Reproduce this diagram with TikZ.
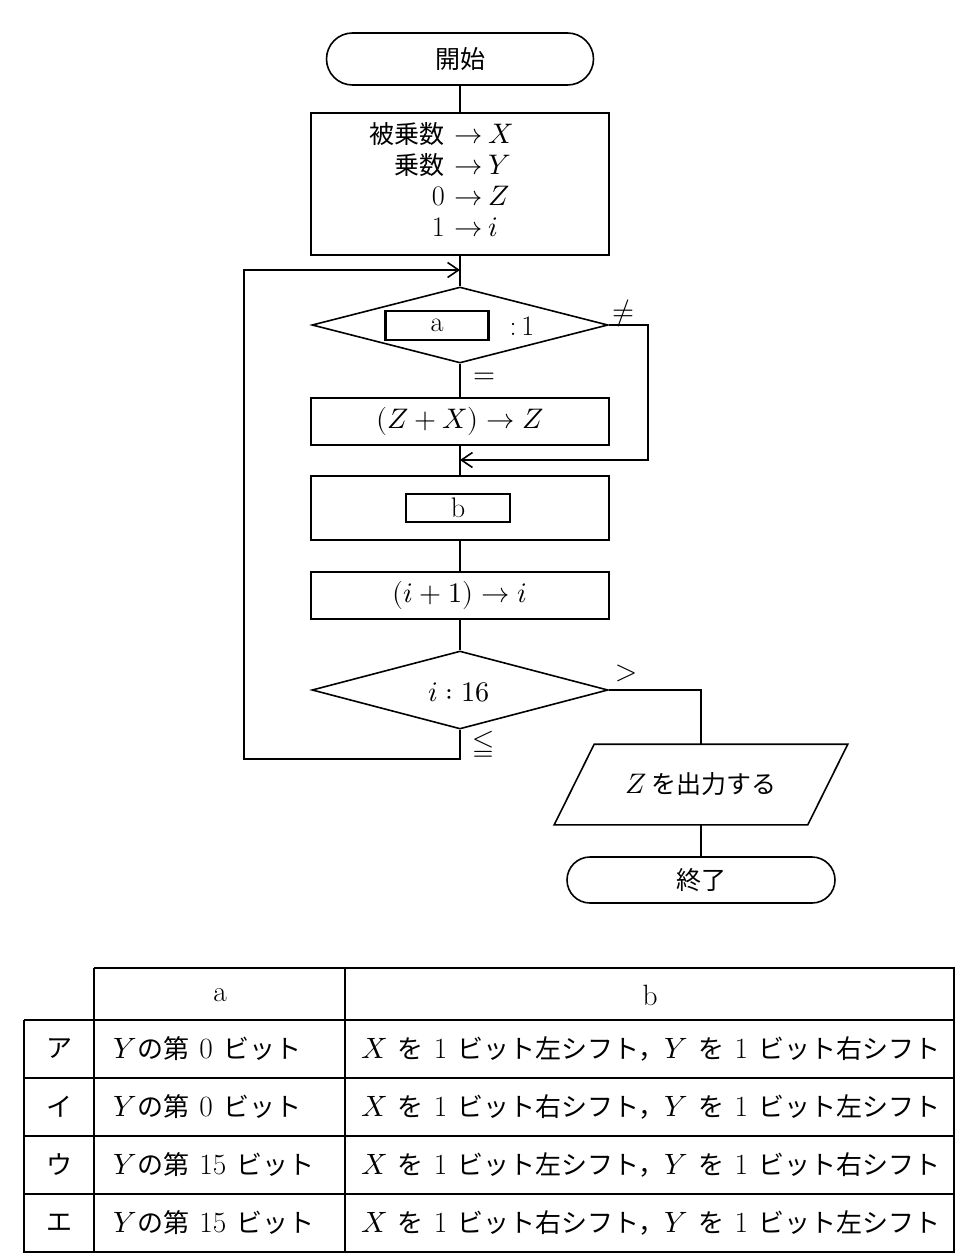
\documentclass[tikz,border=0pt]{standalone}
\usepackage{fontspec}
\usepackage{unicode-math}
\setmainfont{Latin Modern Roman}[Scale=1.13]
\setmathfont{Latin Modern Math}[Scale=1.13]
\newfontfamily\jp{Noto Sans CJK JP}
\usetikzlibrary{shapes.geometric,arrows.meta,calc}
\begin{document}
\begin{tikzpicture}[x=1pt,y=-1pt,line width=1.6pt,
  font=\fontsize{25}{31}\selectfont,
  term/.style={draw,inner sep=0},
  proc/.style={draw,minimum width=298,inner sep=0},
  dec/.style={draw,diamond,minimum width=296,minimum height=76,inner sep=0},
  hole/.style={draw,line width=2.3pt,minimum width=103,minimum height=29,inner sep=0},
  arr/.style={-{Straight Barb[length=11pt,width=15pt]}},
  lbl/.style={inner sep=0},
  tab/.style={inner sep=0,font=\fontsize{26}{30}\selectfont}]
\useasboundingbox (0,0) rectangle (970,1255);
\fill[white] (0,0) rectangle (970,1255);
% flowchart nodes
\node[term,minimum width=267,minimum height=52,rounded corners=26] (start) at (460,59) {\jp 開始};
\node[proc,minimum height=142] (init) at (460,184) {};
\node[lbl,anchor=west] (initt) at (369,184) {\begin{tabular}{@{}r@{\hspace{10pt}$\rightarrow$\hspace{5pt}}l@{}}{\jp 被乗数} & $X$\\ {\jp 乗数} & $Y$\\ 0 & $Z$\\ 1 & $i$\end{tabular}};
\node[dec] (d1) at (460,325) {};
\node[hole] (ha) at (437,325.5) {a};
\node[lbl] (c1) at (522,326) {:\,1};
\node[proc,minimum height=47] (zx) at (460,421.5) {$(Z+X)\rightarrow Z$};
\node[proc,minimum height=64] (bb) at (460,508) {};
\node[hole,minimum width=104,minimum height=28] (hb) at (458,508) {b};
\node[proc,minimum height=47] (inc) at (460,595.5) {$(i+1)\rightarrow i$};
\node[dec,minimum height=78] (d2) at (460,690) {};
\node[lbl] (d2t) at (459,692) {$i:16$};
\node[minimum width=252,minimum height=79,inner sep=0] (out) at (701,784.5) {$Z$\,{\jp を出力する}};
\draw ([xshift=-20pt]out.south west) -- ([xshift=-20pt]out.south east) -- ([xshift=20pt]out.north east) -- ([xshift=20pt]out.north west) -- cycle;
\node[term,minimum width=268,minimum height=46,rounded corners=23] (stop) at (701,880) {\jp 終了};
% coordinates
\coordinate (j1) at (460,270);
\coordinate (j2) at (460,460);
\coordinate (r1) at (648,460);
\coordinate (lp) at (244,759);
% connectors
\draw (start.south) -- (init.north);
\draw (init.south) -- (d1.north);
\draw (d1.south) -- (zx.north);
\draw (zx.south) -- (bb.north);
\draw (bb.south) -- (inc.north);
\draw (inc.south) -- (d2.north);
\draw[arr] (d1.east) -| (r1) -- (j2);
\draw[arr] (d2.south) |- (lp) |- (j1);
\draw (d2.east) -| (out.north);
\draw (out.south) -- (stop.north);
% branch labels
\node[lbl] (ne) at (623,313) {$\neq$};
\node[lbl] (eq) at (484,378) {$=$};
\node[lbl] (gt) at (626,673) {$>$};
\node[lbl] (le) at (483,744) {$\leqq$};
% table
\begin{scope}[line width=1.4pt]
\draw (24,1020) -- (954,1020);
\draw (24,1078) -- (954,1078);
\draw (24,1136) -- (954,1136);
\draw (24,1194) -- (954,1194);
\draw (94,968) -- (954,968) -- (954,1252) -- (24,1252) -- (24,1020);
\draw (94,968) -- (94,1252);
\draw (345,968) -- (345,1252);
\end{scope}
\node[tab] (ha2) at (220,995) {a};
\node[tab] (hb2) at (650,995) {b};
\node[tab] (k1) at (59,1049) {\jp ア};
\node[tab] (k2) at (59,1107) {\jp イ};
\node[tab] (k3) at (59,1165) {\jp ウ};
\node[tab] (k4) at (59,1223) {\jp エ};
\node[tab,anchor=west] (a1) at (113,1049) {$Y${\jp の第}\hspace{.35em}0\hspace{.35em}{\jp ビット}};
\node[tab,anchor=west] (a2) at (113,1107) {$Y${\jp の第}\hspace{.35em}0\hspace{.35em}{\jp ビット}};
\node[tab,anchor=west] (a3) at (113,1165) {$Y${\jp の第}\hspace{.35em}15\hspace{.35em}{\jp ビット}};
\node[tab,anchor=west] (a4) at (113,1223) {$Y${\jp の第}\hspace{.35em}15\hspace{.35em}{\jp ビット}};
\node[tab] (b1) at (651,1049) {$X$\hspace{.35em}{\jp を}\hspace{.35em}1\hspace{.35em}{\jp ビット左シフト，}$Y$\hspace{.35em}{\jp を}\hspace{.35em}1\hspace{.35em}{\jp ビット右シフト}};
\node[tab] (b2) at (651,1107) {$X$\hspace{.35em}{\jp を}\hspace{.35em}1\hspace{.35em}{\jp ビット右シフト，}$Y$\hspace{.35em}{\jp を}\hspace{.35em}1\hspace{.35em}{\jp ビット左シフト}};
\node[tab] (b3) at (651,1165) {$X$\hspace{.35em}{\jp を}\hspace{.35em}1\hspace{.35em}{\jp ビット左シフト，}$Y$\hspace{.35em}{\jp を}\hspace{.35em}1\hspace{.35em}{\jp ビット右シフト}};
\node[tab] (b4) at (651,1223) {$X$\hspace{.35em}{\jp を}\hspace{.35em}1\hspace{.35em}{\jp ビット右シフト，}$Y$\hspace{.35em}{\jp を}\hspace{.35em}1\hspace{.35em}{\jp ビット左シフト}};
\end{tikzpicture}
\end{document}
